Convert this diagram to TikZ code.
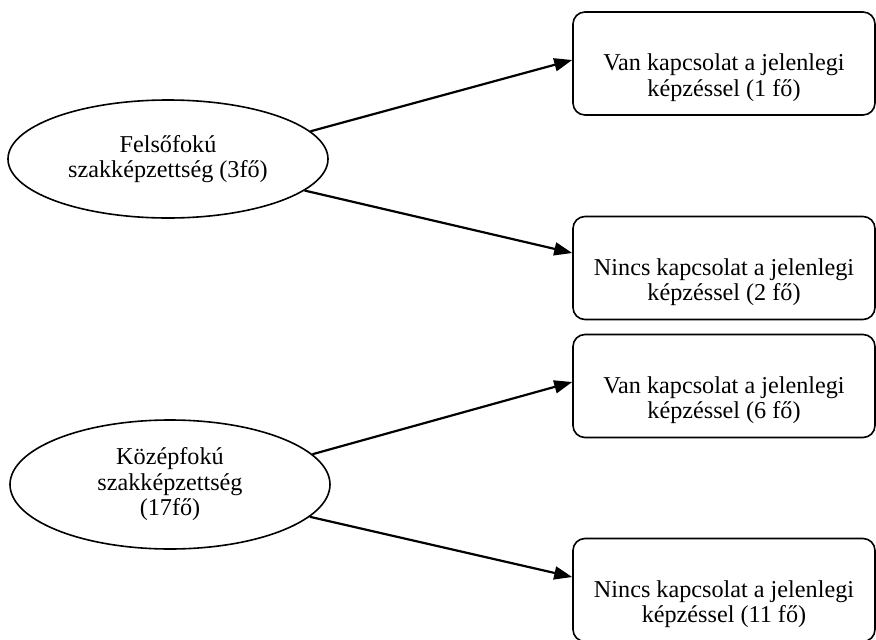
\documentclass[tikz,border=0pt]{standalone}
\usepackage{fontspec}
\setmainfont{Liberation Serif}
\usetikzlibrary{shapes.geometric}
\usetikzlibrary{arrows.meta}

\begin{document}
\begin{tikzpicture}[x=1pt, y=-1pt,
        kepzes/.style={ellipse, draw, line width=1.6pt, minimum width=320pt, align=center, inner sep=0pt, font=\fontsize{24.2}{25.5}\selectfont},
        kapcs/.style={draw, rounded corners=12pt, line width=1.6pt, minimum width=302pt, minimum height=103pt},
        kszoveg/.style={align=center, yshift=-14pt, font=\fontsize{24.2}{25.5}\selectfont},
        nyil/.style={-{Triangle[length=18pt, width=13pt]}, line width=2.2pt}]
        \useasboundingbox (0,0) rectangle (876,640);
        \node[kepzes, minimum height=118pt] (felso) at (168,159) {Felsőfokú\\szakképzettség (3fő)};
        \node[kepzes, minimum height=129pt] (kozep) at (170,484.5) {Középfokú\\szakképzettség\\(17fő)};
        \node[kapcs, label={[kszoveg]center:{Van kapcsolat a jelenlegi\\képzéssel (1 fő)}}] (van1) at (724,63.5) {};
        \node[kapcs, label={[kszoveg]center:{Nincs kapcsolat a jelenlegi\\képzéssel (2 fő)}}] (nincs1) at (724,268) {};
        \node[kapcs, label={[kszoveg]center:{Van kapcsolat a jelenlegi\\képzéssel (6 fő)}}] (van2) at (724,386) {};
        \node[kapcs, label={[kszoveg]center:{Nincs kapcsolat a jelenlegi\\képzéssel (11 fő)}}] (nincs2) at (724,590) {};
        \draw[nyil] (felso.11) -- ([yshift=3.5pt]van1.west);
        \draw[nyil] (felso.-13) -- ([yshift=15pt]nincs1.west);
        \draw[nyil] (kozep.12) -- ([yshift=4pt]van2.west);
        \draw[nyil] (kozep.-13) -- ([yshift=13pt]nincs2.west);
    \end{tikzpicture}
\end{document}
